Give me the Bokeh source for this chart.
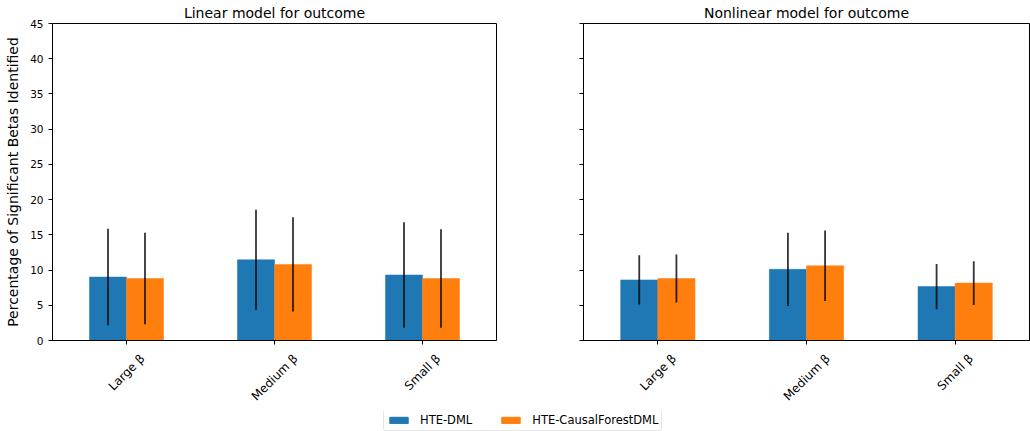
from bokeh.plotting import figure
from bokeh.models import Range1d, FixedTicker, ColumnDataSource, Legend, LegendItem, LinearAxis
from bokeh.layouts import row, column
from bokeh.embed import file_html
from bokeh.resources import INLINE
import math

categories = ["Large β", "Medium β", "Small β"]
series_names = ["HTE-DML", "HTE-CausalForestDML"]
colors = ["#1f77b4", "#ff7f0e"]

# Linear model for outcome
linear_dml = [9.0, 11.45, 9.3]
linear_dml_err = [6.85, 7.1, 7.5]
linear_cf = [8.8, 10.8, 8.8]
linear_cf_err = [6.5, 6.7, 7.0]

# Nonlinear model for outcome
nonlinear_dml = [8.6, 10.1, 7.65]
nonlinear_dml_err = [3.5, 5.2, 3.2]
nonlinear_cf = [8.8, 10.6, 8.15]
nonlinear_cf_err = [3.4, 5.0, 3.1]

y_ticks = [0, 5, 10, 15, 20, 25, 30, 35, 40, 45]

FONT = "DejaVu Sans"
# Bokeh anchors a 45-degree label at its right end; these shifts (in category units)
# move each label so that its middle sits under the tick, as matplotlib draws it.
LABEL_SHIFT = [0.109, 0.143, 0.107]


def make_panel(title, dml, dml_err, cf, cf_err, width, left, right, show_ylabels):
    p = figure(width=width, height=411, x_range=Range1d(-0.5, 2.5), y_range=Range1d(0, 45),
               output_backend="svg", toolbar_location=None, title=title,
               min_border_left=left, min_border_right=right, min_border_top=23,
               min_border_bottom=71)
    p.title.align = "center"
    p.title.text_font = FONT
    p.title.text_font_size = "14px"
    p.title.text_font_style = "normal"
    p.title.text_color = "black"
    p.title.text_line_height = 1.0
    p.title.standoff = 5
    p.xgrid.visible = False
    p.ygrid.visible = False
    p.outline_line_color = "black"
    p.outline_line_alpha = 1
    p.outline_line_width = 1
    p.background_fill_color = "white"
    p.border_fill_color = "white"

    idx = list(range(len(categories)))
    for k, (vals, errs) in enumerate([(dml, dml_err), (cf, cf_err)]):
        xs = [i - 0.125 + 0.25 * k for i in idx]
        src = ColumnDataSource(dict(
            x=xs, top=vals,
            lo=[v - e for v, e in zip(vals, errs)],
            hi=[v + e for v, e in zip(vals, errs)]))
        p.vbar(x="x", top="top", bottom=0, width=0.25, source=src,
               fill_color=colors[k], line_color=colors[k], line_width=0.5)
        p.segment(x0="x", y0="lo", x1="x", y1="hi", source=src,
                  line_color="black", line_width=1.8, line_alpha=0.8)

    # axis carrying the tick marks
    xa = p.xaxis[0]
    xa.ticker = FixedTicker(ticks=idx)
    xa.major_label_text_color = None
    xa.major_label_text_font_size = "0px"
    xa.major_label_standoff = 0
    xa.minor_tick_line_color = None
    xa.major_tick_in = 0
    xa.major_tick_out = 4
    xa.axis_line_color = "black"
    xa.major_tick_line_color = "black"

    # axis carrying the rotated category labels
    shifted = [i + s for i, s in zip(idx, LABEL_SHIFT)]
    xl = LinearAxis(ticker=FixedTicker(ticks=shifted),
                    major_label_overrides={t: c for t, c in zip(shifted, categories)},
                    major_label_orientation=math.pi / 4,
                    major_label_text_font=FONT, major_label_text_font_size="12px",
                    major_label_text_color="black", major_label_standoff=12,
                    axis_line_color=None, major_tick_line_color=None,
                    minor_tick_line_color=None, major_tick_out=0, major_tick_in=0)
    p.add_layout(xl, "below")

    ya = p.yaxis[0]
    ya.ticker = FixedTicker(ticks=y_ticks)
    ya.minor_tick_line_color = None
    ya.major_tick_in = 0
    ya.major_tick_out = 4
    ya.axis_line_color = "black"
    ya.major_tick_line_color = "black"
    ya.major_label_text_font = FONT
    ya.major_label_text_font_size = "10.5px"
    ya.major_label_text_color = "black"
    if show_ylabels:
        ya.axis_label = "Percentage of Significant Betas Identified"
        ya.axis_label_text_font = FONT
        ya.axis_label_text_font_size = "14px"
        ya.axis_label_text_font_style = "normal"
        ya.axis_label_text_color = "black"
        ya.axis_label_standoff = 6
    else:
        ya.major_label_text_color = None
    return p


p1 = make_panel("Linear model for outcome", linear_dml, linear_dml_err, linear_cf, linear_cf_err,
                520, 52, 24, True)
p2 = make_panel("Nonlinear model for outcome", nonlinear_dml, nonlinear_dml_err, nonlinear_cf,
                nonlinear_cf_err, 510, 63, 1, False)

# legend strip
p3 = figure(width=1030, height=20, x_range=Range1d(0, 1), y_range=Range1d(0, 1),
            output_backend="svg", toolbar_location=None,
            x_axis_location=None, y_axis_location=None, min_border=0)
p3.outline_line_color = None
p3.grid.visible = False
items = []
for name, c in zip(series_names, colors):
    r = p3.vbar(x=[0.5], top=[-2], bottom=[-3], width=0.1, fill_color=c, line_color=c)
    items.append(LegendItem(label=name, renderers=[r]))
leg = Legend(items=items, orientation="horizontal", location=(383, 0),
             label_text_font=FONT, label_text_font_size="11.5px", label_text_color="black",
             glyph_width=23, glyph_height=8, label_standoff=10, spacing=27,
             padding=3, margin=0, label_height=11,
             border_line_color="#cccccc", border_line_width=1, border_radius=3,
             background_fill_color="white", background_fill_alpha=1)
p3.add_layout(leg, "center")

layout = column(row(p1, p2), p3)
open("out.html", "w").write(file_html(layout, INLINE))
